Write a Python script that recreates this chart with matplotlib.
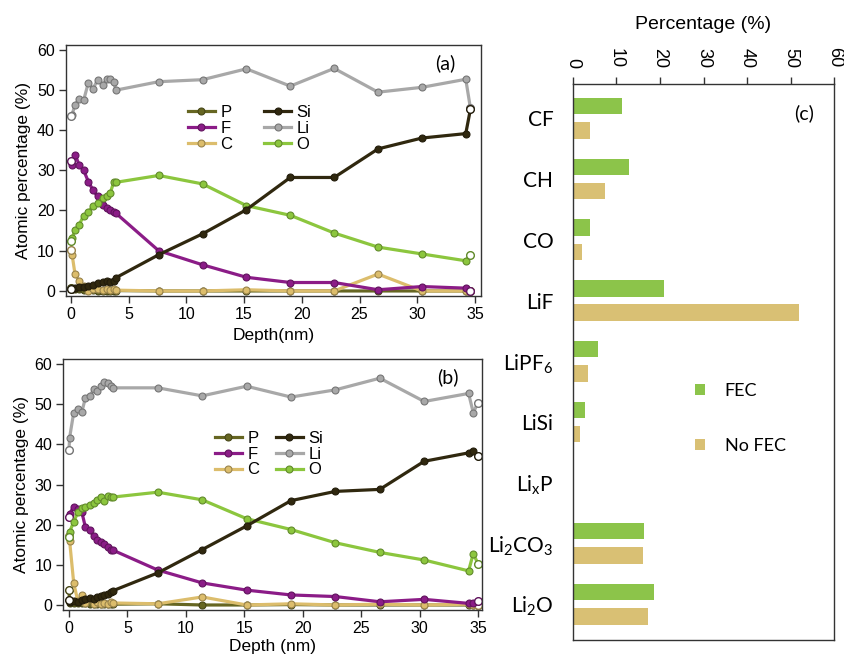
import numpy as np
import matplotlib.pyplot as plt
from matplotlib.colors import to_rgb

# ---- panel (a): depth profile, no FEC ----
depth_a = [0, 0.1, 0.35, 0.7, 1.1, 1.5, 1.9, 2.3, 2.8, 3.1, 3.4, 3.7, 3.9,
           7.6, 11.4, 15.2, 19.0, 22.8, 26.6, 30.4, 34.2, 34.6]
P_a = [0.8, 0.6, 0.5, 0.4, 0.3, 0.2, 0.2, 0.1, 0.1, 0.1, 0.1, 0.1, 0.1,
       0.0, 0.0, 0.0, 0.0, 0.0, 0.0, 0.0, 0.0, 0.0]
F_a = [32.4, 31.4, 33.9, 31.4, 30.0, 27.2, 25.1, 23.5, 21.4, 20.6, 20.0, 19.5, 19.3,
       10.0, 6.5, 3.4, 2.1, 2.1, 0.3, 1.1, 0.7, 0.1]
C_a = [10.3, 9.0, 4.2, 2.5, 1.2, 0.1, 0.4, 0.6, 0.2, 0.6, 0.3, 0.5, 0.2,
       0.0, 0.0, 0.3, 0.0, 0.0, 4.2, 0.0, 0.0, 0.0]
Si_a = [0.6, 0.5, 0.7, 0.9, 1.1, 1.3, 1.6, 1.9, 2.3, 2.4, 2.2, 2.6, 3.3,
        9.0, 14.2, 20.2, 28.2, 28.2, 35.3, 38.0, 39.1, 45.1]
Li_a = [43.4, 43.8, 46.3, 47.7, 47.4, 51.7, 50.2, 52.4, 51.3, 52.7, 52.7, 51.9, 49.9,
        52.0, 52.5, 55.2, 50.9, 55.3, 49.4, 50.6, 52.6, 45.5]
O_a = [12.3, 13.1, 15.2, 16.4, 18.7, 19.7, 21.0, 21.8, 23.1, 23.7, 24.3, 27.0, 27.0,
       28.7, 26.6, 21.2, 18.8, 14.4, 10.9, 9.2, 7.5, 9.0]

# ---- panel (b): depth profile, FEC ----
depth_b = [0, 0.05, 0.4, 0.75, 1.1, 1.4, 1.8, 2.1, 2.4, 2.7, 3.0, 3.3, 3.6, 3.8,
           7.6, 11.4, 15.2, 19.0, 22.8, 26.6, 30.4, 34.2, 34.6, 35.0]
P_b = [3.8, 0.5, 0.6, 0.4, 0.5, 0.4, 0.3, 0.3, 0.3, 0.2, 0.2, 0.2, 0.2, 0.2,
       0.3, 0.0, 0.0, 0.1, 0.0, 0.0, 0.0, 0.0, 0.0, 0.0]
F_b = [21.9, 22.7, 24.5, 24.0, 23.1, 19.4, 18.6, 17.1, 16.3, 15.7, 15.1, 14.5, 13.8, 13.6,
       8.7, 5.5, 3.7, 2.5, 2.1, 0.8, 1.4, 0.4, 0.6, 1.1]
C_b = [17.2, 16.0, 5.5, 1.0, 2.6, 0.5, 1.5, 0.3, 0.8, 0.3, 0.6, 0.2, 0.8, 0.5,
       0.3, 2.0, 0.0, 0.3, 0.0, 0.2, 0.0, 0.2, 0.1, 0.0]
Si_b = [1.2, 0.8, 1.0, 0.7, 1.2, 1.5, 1.8, 1.6, 2.0, 2.2, 2.4, 2.8, 3.3, 3.6,
        8.0, 13.8, 19.7, 26.0, 28.3, 28.8, 35.8, 37.9, 38.4, 37.2]
Li_b = [38.7, 41.7, 47.9, 48.8, 48.1, 51.6, 52.1, 53.7, 53.3, 54.5, 55.5, 55.2, 54.5, 54.1,
        54.1, 52.1, 54.5, 51.8, 53.6, 56.5, 50.7, 52.7, 47.9, 50.4]
O_b = [16.9, 18.2, 20.7, 23.1, 24.1, 24.5, 25.0, 25.4, 26.2, 27.0, 25.8, 27.1, 27.0, 26.9,
       28.1, 26.2, 21.5, 18.8, 15.5, 13.1, 11.2, 8.5, 12.8, 10.3]

# ---- panel (c): species percentages ----
species = ['CF', 'CH', 'CO', 'LiF', 'LiPF$_6$', 'LiSi', 'Li$_x$P',
           'Li$_2$CO$_3$', 'Li$_2$O']
fec = [11.2, 12.8, 4.0, 20.9, 5.9, 2.75, 0.4, 16.3, 18.7]
no_fec = [4.0, 7.3, 2.1, 51.8, 3.6, 1.7, 0.3, 16.0, 17.2]
other = [0, 0, 0, 0, 0, 0, 0, 0.3, 0.3]

colors = {'P': '#666622', 'F': '#8b1c87', 'C': '#dcbd6c',
          'Si': '#30280f', 'Li': '#a8a8a8', 'O': '#8cc63e'}

plt.rcParams['font.family'] = 'Liberation Sans'
plt.rcParams['mathtext.default'] = 'regular'


def darker(c, f=0.7):
    return tuple(v * f for v in to_rgb(c))


def profile(ax, depth, series, tag, tag_pos, legend_anchor, colspacing,
            xlabel, xlabelpad):
    handles = []
    for name, vals in series:
        col = colors[name]
        ec = darker(col)
        ln, = ax.plot(depth, vals, '-o', color=col, lw=2.3, ms=5,
                      mec=ec, mew=0.8, label=name)
        # hollow first and last points
        ends = [0, len(depth) - 1]
        ax.plot([depth[i] for i in ends], [vals[i] for i in ends], 'o',
                ms=5.5, mfc='white', mec=ec, mew=1.0)
        handles.append(ln)
    order = ['P', 'F', 'C', 'Si', 'Li', 'O']
    hmap = {h.get_label(): h for h in handles}
    ax.legend([hmap[k] for k in order], order, ncol=2, loc='center left',
              bbox_to_anchor=legend_anchor, frameon=False, fontsize=12,
              handlelength=1.6, handletextpad=0.35, labelspacing=0.05,
              columnspacing=colspacing, borderpad=0, borderaxespad=0,
              numpoints=1)
    ax.set_ylim(-1.25, 61.2)
    ax.set_yticks([0, 10, 20, 30, 40, 50, 60])
    ax.set_xticks([0, 5, 10, 15, 20, 25, 30, 35])
    ax.tick_params(labelsize=11.5, length=5, width=1, color='#333333', pad=3)
    ax.set_ylabel('Atomic percentage (%)', fontsize=12.5, labelpad=4)
    ax.set_xlabel(xlabel, fontsize=12.5, labelpad=xlabelpad)
    for s in ax.spines.values():
        s.set_color('#333333')
        s.set_linewidth(1)
    ax.text(tag_pos[0], tag_pos[1], tag, transform=ax.transAxes, fontsize=14,
            family='Lato', ha='center', va='center')


fig = plt.figure(figsize=(8.44, 6.55), dpi=100)

ax_a = fig.add_axes([0.0782, 0.5481, 0.4917, 0.3837])
profile(ax_a, depth_a,
        [('P', P_a), ('C', C_a), ('F', F_a), ('O', O_a), ('Li', Li_a), ('Si', Si_a)],
        '(a)', (0.915, 0.925), (0.294, 0.666), 1.9, 'Depth(nm)', 4)
ax_a.set_xlim(-0.43, 35.52)

ax_b = fig.add_axes([0.0750, 0.0687, 0.4964, 0.3827])
profile(ax_b, depth_b,
        [('P', P_b), ('C', C_b), ('F', F_b), ('O', O_b), ('Li', Li_b), ('Si', Si_b)],
        '(b)', (0.917, 0.929), (0.362, 0.622), 1.0, 'Depth (nm)', 2)
ax_b.set_xlim(-0.49, 35.37)

# ---- bar panel ----
ax_c = fig.add_axes([0.6786, 0.0229, 0.3100, 0.8484])
y = np.arange(len(species))
ax_c.barh(y - 0.2, fec, height=0.27, color='#8cc44a', label='FEC')
ax_c.barh(y + 0.2, no_fec, height=0.27, color='#d9c074', label='No FEC')
ax_c.barh(y - 0.2, other, height=0.27, color='#2a4aa0')
ax_c.set_xlim(0, 60)
ax_c.set_ylim(8.59, -0.56)
ax_c.set_yticks(y)
ax_c.set_yticklabels(species, family='Lato', fontsize=15)
ax_c.tick_params(axis='y', length=0, pad=14)
ax_c.xaxis.set_ticks_position('top')
ax_c.xaxis.set_label_position('top')
ax_c.set_xticks([0, 10, 20, 30, 40, 50, 60])
ax_c.tick_params(axis='x', labelsize=13, length=5, width=1, color='#333333',
                 pad=7, labelrotation=-90)
ax_c.set_xlabel('Percentage (%)', fontsize=14, labelpad=13)
for s in ax_c.spines.values():
    s.set_color('#333333')
    s.set_linewidth(1)
ax_c.text(0.885, 0.948, '(c)', transform=ax_c.transAxes, fontsize=14,
          family='Lato', ha='center', va='center')
ax_c.legend(loc='upper left', bbox_to_anchor=(0.467, 0.462), frameon=False,
            prop={'family': 'Lato', 'size': 13}, handlelength=0.55,
            handleheight=0.55, handletextpad=1.1, labelspacing=2.15,
            borderpad=0, borderaxespad=0)

fig.savefig('out.png', dpi=100)
